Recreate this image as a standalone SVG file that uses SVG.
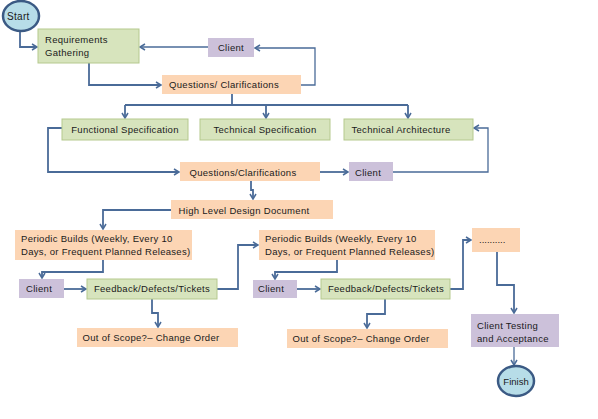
<svg xmlns="http://www.w3.org/2000/svg" width="598" height="419" viewBox="0 0 598 419">
<style>
.g{fill:#d7e4bd;stroke:#b5c98e;stroke-width:1}
.o{fill:#fcd5b4}
.p{fill:#ccc1da}
.c{fill:#b7dde8;stroke:#3b5a84;stroke-width:2.5}
text{font-family:"Liberation Sans",Arial,sans-serif;font-size:9.5px;fill:#1a1a1a;letter-spacing:0.3px}
.m{text-anchor:middle}
.ln{fill:none;stroke:#4a6b98;stroke-width:1.8}
.th{stroke-width:1.3}
</style>
<defs>
<marker id="a" markerWidth="8" markerHeight="8" refX="6" refY="4" orient="auto" markerUnits="userSpaceOnUse">
<path d="M1,1 L6,4 L1,7" fill="none" stroke="#4a6b98" stroke-width="1.5"/>
</marker>
</defs>
<rect width="598" height="419" fill="#fff"/>
<g id="connectors">
<path class="ln" d="M20,32 V47 H37" marker-end="url(#a)"/>
<path class="ln" d="M89,63 V85 H161" marker-end="url(#a)"/>
<path class="ln th" d="M301,85 H315 V48 H255" marker-end="url(#a)"/>
<path class="ln th" d="M208,47 H140" marker-end="url(#a)"/>
<path class="ln" d="M232,94 V105"/>
<path class="ln" d="M125,105 H408"/>
<path class="ln" d="M125,105 V118" marker-end="url(#a)"/>
<path class="ln" d="M266,105 V118" marker-end="url(#a)"/>
<path class="ln" d="M408,105 V118" marker-end="url(#a)"/>
<path class="ln" d="M62,128 H48 V172 H179" marker-end="url(#a)"/>
<path class="ln" d="M320,172 H348" marker-end="url(#a)"/>
<path class="ln th" d="M393,172 H488 V128 H474" marker-end="url(#a)"/>
<path class="ln" d="M251,181 V190 H253 V199" marker-end="url(#a)"/>
<path class="ln" d="M171,210 H103 V229" marker-end="url(#a)"/>
<path class="ln" d="M103,260 V272 H42 V278" marker-end="url(#a)"/>
<path class="ln" d="M64,289 H86" marker-end="url(#a)"/>
<path class="ln" d="M217,289 H238 V245 H258" marker-end="url(#a)"/>
<path class="ln" d="M152,299 V313 H158 V327" marker-end="url(#a)"/>
<path class="ln" d="M337,260 V272 H275 V279" marker-end="url(#a)"/>
<path class="ln" d="M297,289 H320" marker-end="url(#a)"/>
<path class="ln" d="M450,289 H463 V240 H471" marker-end="url(#a)"/>
<path class="ln" d="M385,299 V314 H367 V328" marker-end="url(#a)"/>
<path class="ln" d="M497,252 V285 H514 V313" marker-end="url(#a)"/>
<path class="ln th" d="M514,347 V365" marker-end="url(#a)"/>
</g>
<g id="start"><ellipse class="c" cx="21" cy="16" rx="18" ry="15"/><text x="7" y="20" style="font-size:10px">Start</text></g>
<g id="req"><rect class="g" x="38" y="29" width="101" height="34"/><text x="45" y="43">Requirements</text><text x="45" y="56">Gathering</text></g>
<g id="client1"><rect class="p" x="208" y="38" width="46" height="19"/><text class="m" x="231" y="51">Client</text></g>
<g id="q1"><rect class="o" x="162" y="75" width="139" height="19"/><text class="m" x="224" y="88">Questions/ Clarifications</text></g>
<g id="func"><rect class="g" x="62" y="119" width="126" height="21"/><text class="m" x="125" y="133">Functional Specification</text></g>
<g id="tech"><rect class="g" x="200" y="119" width="130" height="21"/><text class="m" x="265" y="133">Technical Specification</text></g>
<g id="arch"><rect class="g" x="344" y="119" width="129" height="21"/><text class="m" x="401" y="133">Technical Architecture</text></g>
<g id="q2"><rect class="o" x="180" y="162" width="140" height="19"/><text class="m" x="243" y="176">Questions/Clarifications</text></g>
<g id="client2"><rect class="p" x="349" y="162" width="44" height="19"/><text x="355" y="176">Client</text></g>
<g id="hld"><rect class="o" x="171" y="200" width="162" height="19"/><text class="m" x="244" y="214">High Level Design Document</text></g>
<g id="pb1"><rect class="o" x="15" y="230" width="177" height="30"/><text x="21" y="242">Periodic Builds (Weekly, Every 10</text><text x="21" y="255">Days, or Frequent Planned Releases)</text></g>
<g id="client3"><rect class="p" x="19" y="279" width="45" height="19"/><text x="26" y="292">Client</text></g>
<g id="fb1"><rect class="g" x="87" y="279" width="130" height="20"/><text class="m" x="152" y="292">Feedback/Defects/Tickets</text></g>
<g id="oos1"><rect class="o" x="77" y="328" width="161" height="19"/><text class="m" x="151" y="341">Out of Scope?– Change Order</text></g>
<g id="pb2"><rect class="o" x="259" y="230" width="176" height="30"/><text x="265" y="242">Periodic Builds (Weekly, Every 10</text><text x="265" y="255">Days, or Frequent Planned Releases)</text></g>
<g id="client4"><rect class="p" x="253" y="280" width="44" height="18"/><text x="258" y="292">Client</text></g>
<g id="fb2"><rect class="g" x="321" y="279" width="129" height="20"/><text class="m" x="386" y="292">Feedback/Defects/Tickets</text></g>
<g id="oos2"><rect class="o" x="287" y="329" width="161" height="19"/><text class="m" x="361" y="342">Out of Scope?– Change Order</text></g>
<g id="dots"><rect class="o" x="472" y="228" width="48" height="24"/><text x="479" y="243" style="letter-spacing:0">..........</text></g>
<g id="ct"><rect class="p" x="471" y="314" width="88" height="33"/><text x="477" y="329">Client Testing</text><text x="477" y="342">and Acceptance</text></g>
<g id="finish"><ellipse class="c" cx="516" cy="381" rx="18" ry="15"/><text class="m" x="516" y="385" style="letter-spacing:0">Finish</text></g>
</svg>
